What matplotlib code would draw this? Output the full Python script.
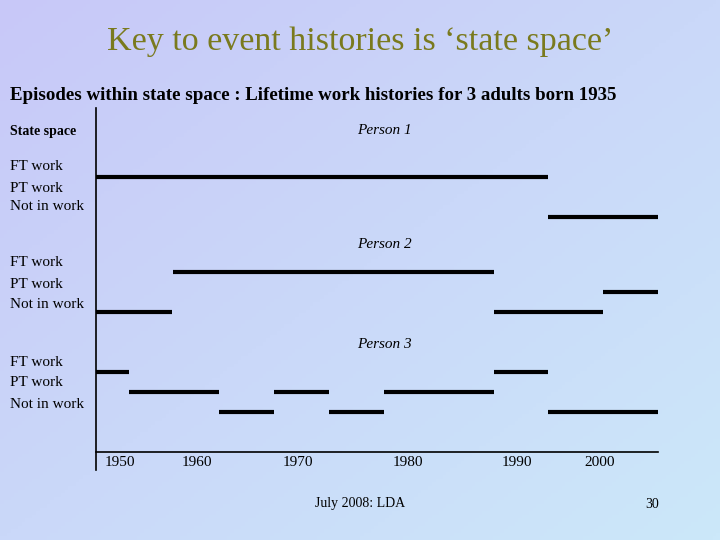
import numpy as np
import matplotlib.pyplot as plt
from matplotlib.colors import LinearSegmentedColormap

# episodes: (start year, end year, state) ; state 0=FT work, 1=PT work, 2=Not in work
person1 = [(1947.5, 1994.6, 0), (1994.6, 2006.0, 2)]
person2 = [(1947.5, 1955.4, 2), (1955.5, 1988.9, 0), (1988.9, 2000.3, 2), (2000.3, 2006.0, 1)]
person3 = [(1947.5, 1950.9, 0), (1950.9, 1960.3, 1), (1960.3, 1966.0, 2), (1966.0, 1971.8, 1),
           (1971.8, 1977.5, 2), (1977.5, 1988.9, 1), (1988.9, 1994.6, 0), (1994.6, 2006.0, 2)]
persons = [person1, person2, person3]
person_names = ["Person 1", "Person 2", "Person 3"]
states = ["FT work", "PT work", "Not in work"]
tick_years = [1950, 1960, 1970, 1980, 1990, 2000]

W, H = 720, 540
fig = plt.figure(figsize=(7.2, 5.4), dpi=100)

# gradient background
bg = fig.add_axes([0, 0, 1, 1])
xx, yy = np.meshgrid(np.linspace(0, 1, 200), np.linspace(0, 1, 150))
t = 0.5 * xx + 0.5 * yy
cmap = LinearSegmentedColormap.from_list("bg", ["#c8c8f8", "#cce8fa"])
bg.imshow(t, cmap=cmap, aspect="auto", extent=[0, 1, 0, 1], origin="upper")
bg.set_xlim(0, 1); bg.set_ylim(0, 1); bg.axis("off")

def fx(px):
    return px / W

def fy(py):
    return 1 - py / H

serif = "Liberation Serif"
fig.text(0.5, fy(42), "Key to event histories is \u2018state space\u2019", ha="center", va="center",
         fontsize=24.5, color="#7a7a1e", family=serif)
fig.text(fx(10), fy(96), "Episodes within state space : Lifetime work histories for 3 adults born 1935",
         ha="left", va="center", fontsize=13.6, weight="bold", family=serif)
fig.text(fx(10), fy(132), "State space", ha="left", va="center", fontsize=10, weight="bold", family=serif)

ax = fig.add_axes([fx(96), fy(452), fx(658) - fx(96), (452 - 108) / H])
ax.patch.set_alpha(0)
ax.set_xlim(1947.5, 2006.0)
ax.set_ylim(452, 108)
for s in ["top", "right", "left"]:
    ax.spines[s].set_visible(False)
ax.spines["bottom"].set_linewidth(1.2)
ax.set_xticks([]); ax.set_yticks([])

base = [177, 272, 372]
step = 20
state_label_y = [[167, 188, 207], [263, 284, 305], [362, 383, 404]]
name_y = [131, 245, 344]
for i, person in enumerate(persons):
    for a, b, s in person:
        y = base[i] + s * step
        ax.plot([a, b], [y, y], color="black", lw=3, solid_capstyle="butt")
    ax.text(1977.5, name_y[i], person_names[i], ha="center", va="center", fontsize=11,
            style="italic", family=serif)
    for j, st in enumerate(states):
        fig.text(fx(10), fy(state_label_y[i][j]), st, ha="left", va="center", fontsize=11, family=serif)

# left axis line extends below the bottom spine
fig.add_artist(plt.Line2D([fx(96), fx(96)], [fy(108), fy(470)], color="black", lw=1.2))
# tick labels sit unevenly in the original slide
label_px = [120, 197, 298, 408, 517, 600]
for yr, px in zip(tick_years, label_px):
    fig.text(fx(px), fy(462), str(yr), ha="center", va="center", fontsize=11, family=serif)

fig.text(fx(360), fy(504), "July 2008: LDA", ha="center", va="center", fontsize=10, family=serif)
fig.text(fx(652), fy(504), "30", ha="center", va="center", fontsize=10, family=serif)

fig.savefig("out.png", dpi=100)
